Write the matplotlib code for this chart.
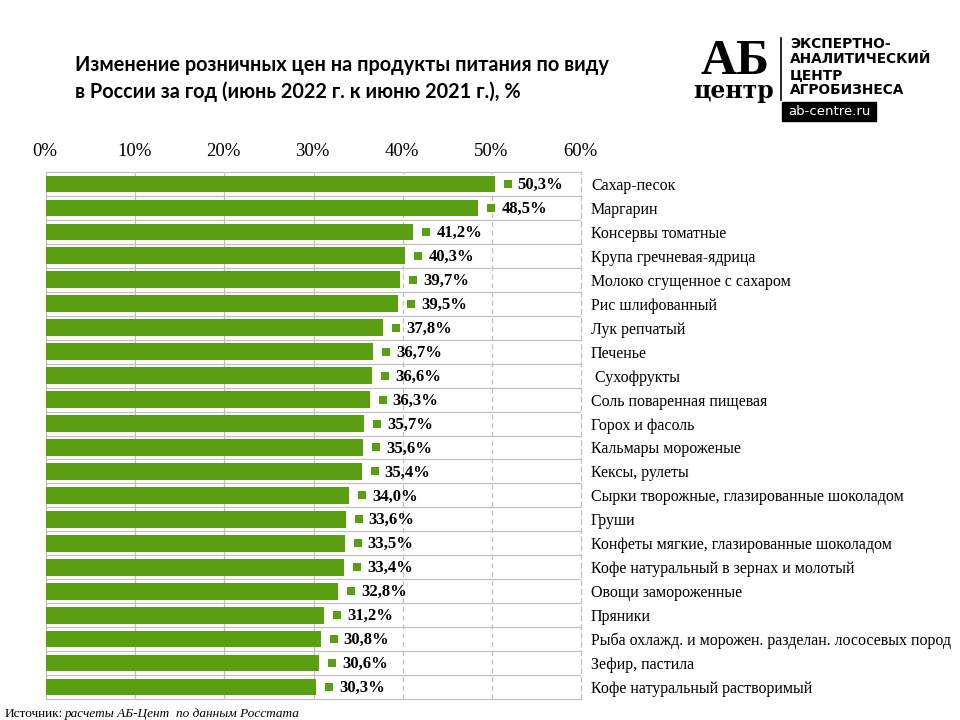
import matplotlib
matplotlib.use("Agg")
import matplotlib.pyplot as plt
import matplotlib.transforms as mtransforms
from matplotlib.patches import Rectangle

categories = [
    "Сахар-песок", "Маргарин", "Консервы томатные", "Крупа гречневая-ядрица",
    "Молоко сгущенное с сахаром", "Рис шлифованный", "Лук репчатый", "Печенье",
    " Сухофрукты", "Соль поваренная пищевая", "Горох и фасоль", "Кальмары мороженые",
    "Кексы, рулеты", "Сырки творожные, глазированные шоколадом", "Груши",
    "Конфеты мягкие, глазированные шоколадом", "Кофе натуральный в зернах и молотый",
    "Овощи замороженные", "Пряники", "Рыба охлажд. и морожен. разделан. лососевых пород",
    "Зефир, пастила", "Кофе натуральный растворимый",
]
values = [50.3, 48.5, 41.2, 40.3, 39.7, 39.5, 37.8, 36.7, 36.6, 36.3, 35.7, 35.6,
          35.4, 34.0, 33.6, 33.5, 33.4, 32.8, 31.2, 30.8, 30.6, 30.3]
ticks = [0, 10, 20, 30, 40, 50, 60]
tick_labels = ["0%", "10%", "20%", "30%", "40%", "50%", "60%"]

title = "Изменение розничных цен на продукты питания по виду\nв России за год (июнь 2022 г. к июню 2021 г.), %"

W, H = 960, 720
fig = plt.figure(figsize=(9.6, 7.2), dpi=100)
fig.patch.set_facecolor("white")

def rect(l, t, r, b):
    return [l / W, 1 - b / H, (r - l) / W, (b - t) / H]

serif = ["Liberation Serif", "DejaVu Serif"]
green = "#5a9e12"
grid_c = "#c0c0c0"

ax = fig.add_axes(rect(46, 172, 581, 699))
n = len(categories)
ypos = list(range(n))
ax.barh(ypos, values, height=0.7, color=green, zorder=3)
ax.set_xlim(0, 60)
ax.set_ylim(n - 0.5, -0.5)
ax.set_xticks([])
ax.set_yticks([])
for t in ticks[1:-1]:
    ax.axvline(t, color=grid_c, lw=0.9, ls="-" if t < 40 else (0, (4, 3)), zorder=1)
for i in range(n - 1):
    ax.axhline(i + 0.5, color=grid_c, lw=0.9, zorder=1)
for s in ["left", "top", "bottom"]:
    ax.spines[s].set_color(grid_c)
    ax.spines[s].set_linewidth(0.9)
ax.spines["right"].set_color(grid_c)
ax.spines["right"].set_linestyle((0, (4, 3)))
ax.spines["right"].set_linewidth(0.9)

mk_tr = mtransforms.offset_copy(ax.transData, fig=fig, x=13, y=0, units="dots")
ax.scatter(values, ypos, marker="s", s=34, color=green, transform=mk_tr, zorder=4, clip_on=False, linewidths=0)
for v, y in zip(values, ypos):
    ax.annotate(f"{v:.1f}%".replace(".", ","), (v, y), xytext=(23, -1), textcoords="offset pixels",
                ha="left", va="center", fontsize=12, fontweight="bold", family=serif, zorder=5,
                annotation_clip=False)

lbl_tr = mtransforms.blended_transform_factory(ax.transAxes, ax.transData)
lbl_off = mtransforms.offset_copy(lbl_tr, fig=fig, x=0, y=-2, units="dots")
for c, y in zip(categories, ypos):
    ax.text(1 + 10 / 535, y, c, transform=lbl_off, ha="left", va="center", fontsize=11.5, family=serif)

# top scale
axt = fig.add_axes(rect(45, 168, 580, 169))
axt.set_xlim(0, 60)
axt.set_yticks([])
axt.xaxis.tick_top()
axt.set_xticks(ticks)
axt.set_xticklabels(tick_labels, family=serif, fontsize=13.5)
axt.tick_params(axis="x", length=0, pad=6)
for s in axt.spines.values():
    s.set_visible(False)
axt.patch.set_alpha(0)

# title
fig.text(75 / W, 1 - 55 / H, title, ha="left", va="top", fontsize=14.3, fontweight="bold",
         family=["Lato", "DejaVu Sans"], linespacing=1.4)

# logo
fig.text(735 / W, 1 - 74 / H, "АБ", ha="center", va="baseline", fontsize=36, fontweight="bold",
         family=serif)
fig.text(734 / W, 1 - 98 / H, "центр", ha="center", va="baseline", fontsize=17, fontweight="bold",
         family=["DejaVu Serif"])
fig.add_artist(plt.Line2D([781 / W, 781 / W], [1 - 38 / H, 1 - 100 / H], color="black", lw=1.2))
fig.text(790 / W, 1 - 37 / H, "ЭКСПЕРТНО-\nАНАЛИТИЧЕСКИЙ\nЦЕНТР\nАГРОБИЗНЕСА", ha="left", va="top",
         fontsize=9.9, fontweight="bold", family=["DejaVu Sans"], linespacing=1.12)
fig.add_artist(Rectangle((782 / W, 1 - 121 / H), 94 / W, 19 / H, color="black", transform=fig.transFigure))
fig.text(829 / W, 1 - 111.5 / H, "ab-centre.ru", ha="center", va="center", fontsize=9.5, color="white",
         family=["DejaVu Sans"])

# source
fig.text(5 / W, 1 - 714 / H, "Источник:", ha="left", va="center", fontsize=9.5, family=serif)
fig.text(65 / W, 1 - 714 / H, "расчеты АБ-Цент  по данным Росстата", ha="left", va="center",
         fontsize=9.5, family=serif, style="italic")

fig.savefig("out.png", dpi=100, facecolor="white")
